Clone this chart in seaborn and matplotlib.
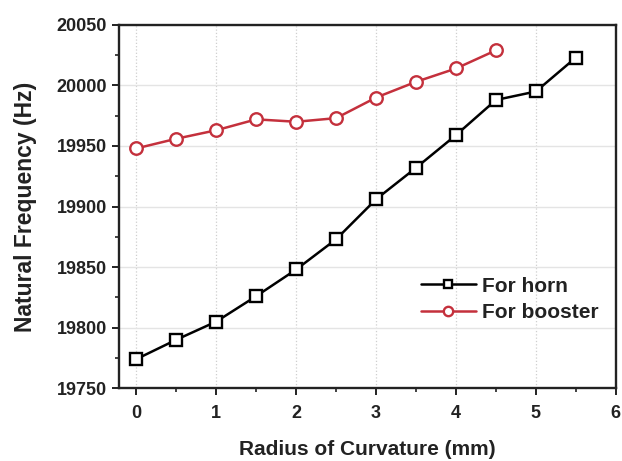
import matplotlib
matplotlib.use("Agg")
import matplotlib.pyplot as plt
import seaborn as sns
from matplotlib.ticker import MultipleLocator

# datos
radio_horn = [0, 0.5, 1, 1.5, 2, 2.5, 3, 3.5, 4, 4.5, 5, 5.5]
freq_horn = [19774, 19790, 19805, 19826, 19848, 19873, 19906, 19932, 19959, 19988, 19995, 20023]
radio_booster = [0, 0.5, 1, 1.5, 2, 2.5, 3, 3.5, 4, 4.5]
freq_booster = [19948, 19956, 19963, 19972, 19970, 19973, 19990, 20003, 20014, 20029]

sns.set_style("white")
plt.rcParams["font.family"] = ["Liberation Sans", "DejaVu Sans"]
plt.rcParams["font.weight"] = "bold"

fig = plt.figure(figsize=(6.22, 4.61), dpi=100)
ax = fig.add_axes([0.191, 0.158, 0.799, 0.788])

sns.lineplot(x=radio_horn, y=freq_horn, ax=ax, color="black", marker="s",
             markersize=8, markerfacecolor="white", markeredgecolor="black",
             markeredgewidth=1.7, linewidth=1.8, label="For horn")
sns.lineplot(x=radio_booster, y=freq_booster, ax=ax, color="#c4303c", marker="o",
             markersize=9, markerfacecolor="white", markeredgecolor="#c4303c",
             markeredgewidth=1.7, linewidth=1.8, label="For booster")

ax.set_xlim(-0.22, 6)
ax.set_ylim(19750, 20050)
ax.xaxis.set_major_locator(MultipleLocator(1))
ax.xaxis.set_minor_locator(MultipleLocator(0.5))
ax.yaxis.set_major_locator(MultipleLocator(50))
ax.yaxis.set_minor_locator(MultipleLocator(25))

ax.grid(True, axis="y", which="major", color="#e4e4e4", linewidth=1, linestyle="-")
ax.grid(True, axis="x", which="major", color="#cfcfcf", linewidth=0.9, linestyle=":")

for lado in ax.spines.values():
    lado.set_color("#222222")
    lado.set_linewidth(1.7)

ax.tick_params(axis="both", which="major", direction="out", length=5, width=1.4,
               labelsize=13, bottom=True, left=True, colors="#222222")
ax.tick_params(axis="x", which="major", pad=7)
ax.tick_params(axis="both", which="minor", direction="out", length=3, width=1.2,
               bottom=True, left=True, colors="#222222")
for t in ax.get_xticklabels() + ax.get_yticklabels():
    t.set_fontweight("bold")

ax.set_xlabel("Radius of Curvature (mm)", fontsize=15, fontweight="bold", labelpad=13, color="#222222")
ax.set_ylabel("Natural Frequency (Hz)", fontsize=16.5, fontweight="bold", labelpad=14, color="#222222")

ley = ax.legend(loc="center right", bbox_to_anchor=(0.965, 0.245), frameon=False,
                fontsize=15, handlelength=2.6, handletextpad=0.3, labelspacing=0.35,
                borderaxespad=0, borderpad=0, markerscale=0.75)
for t in ley.get_texts():
    t.set_fontweight("bold")
    t.set_color("#222222")

fig.savefig("out.png", dpi=100)
